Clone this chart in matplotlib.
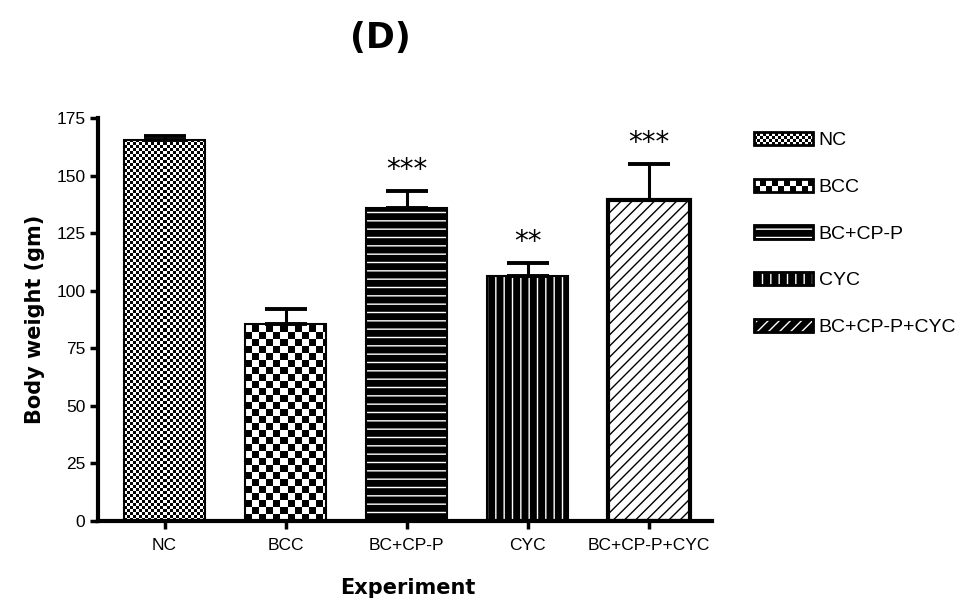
import numpy as np
import matplotlib
matplotlib.use("Agg")
import matplotlib.pyplot as plt
from matplotlib.patches import Patch, Rectangle
from matplotlib.legend_handler import HandlerBase, HandlerTuple

groups = ["NC", "BCC", "BC+CP-P", "CYC", "BC+CP-P+CYC"]
body_weight = [165.5, 85.5, 136.0, 106.5, 139.5]
err_up = [1.8, 6.5, 7.3, 5.5, 15.5]
stars = ["", "", "***", "**", "***"]
yticks = [0, 25, 50, 75, 100, 125, 150, 175]

plt.rcParams['font.family'] = ['Liberation Sans', 'DejaVu Sans']

fig = plt.figure(figsize=(9.7, 6.08), dpi=100)
ax = fig.add_axes([0.101, 0.143, 0.633, 0.663])
ax.set_xlim(-0.55, 4.52)
ax.set_ylim(0, 175)

x = np.arange(len(groups))
bw = 0.67


def checker_fill(ax, bar, cell):
    # checkerboard fill (pixel based) clipped to the bar
    x0, y0 = bar.get_x(), bar.get_y()
    x1, y1 = x0 + bar.get_width(), y0 + bar.get_height()
    (px0, py0), (px1, py1) = ax.transData.transform([(x0, y0), (x1, y1)])
    w, h = int(round(px1 - px0)), int(round(py1 - py0))
    jj, ii = np.meshgrid(np.arange(w), np.arange(h))
    img = ((ii // cell + jj // cell) % 2).astype(float)
    im = ax.imshow(img, cmap='gray', vmin=0, vmax=1, extent=(x0, x1, y0, y1),
                   origin='lower', interpolation='nearest', aspect='auto', zorder=2)
    im.set_clip_path(bar)


# base fills
base = ax.bar(x, body_weight, width=bw, color=['white', 'white', 'black', 'black', 'white'],
              linewidth=0, zorder=1)
checker_fill(ax, base[0], 3)
checker_fill(ax, base[1], 7)
ax.bar(x[2], body_weight[2], width=bw, facecolor='none', edgecolor='white', hatch='--',
       linewidth=0, zorder=2)
ax.bar(x[3], body_weight[3], width=bw, facecolor='none', edgecolor='white', hatch='||',
       linewidth=0, zorder=2)
ax.bar(x[4], body_weight[4], width=bw, facecolor='none', edgecolor='black', hatch='///',
       linewidth=0, zorder=2)
# outlines
ax.bar(x, body_weight, width=bw, facecolor='none', edgecolor='black',
       linewidth=[1.5, 1.5, 1.5, 1.5, 3.0], zorder=3)
ax.set_xlim(-0.55, 4.52)
ax.set_ylim(0, 175)

ax.errorbar(x, body_weight, yerr=[np.zeros(len(x)), err_up], fmt='none', ecolor='black',
            elinewidth=2.2, capsize=15, capthick=2.8, zorder=4)

for xi, v, e, s in zip(x, body_weight, err_up, stars):
    if s:
        ax.text(xi, v + e + 3, s, ha='center', va='bottom', fontsize=20,
                family='DejaVu Sans')

ax.spines['top'].set_visible(False)
ax.spines['right'].set_visible(False)
ax.spines['left'].set_linewidth(3)
ax.spines['bottom'].set_linewidth(3)
ax.set_yticks(yticks)
ax.set_xticks(x)
ax.set_xticklabels(groups)
ax.tick_params(axis='both', width=2.5, length=6, labelsize=12.5, pad=3)
ax.tick_params(axis='x', pad=6)

ax.set_ylabel("Body weight (gm)", fontsize=15, fontweight='bold', family='DejaVu Sans',
              labelpad=8)
fig.text(0.42, 1 - 588 / 608, "Experiment", ha='center', va='center', fontsize=15,
         fontweight='bold', family='DejaVu Sans')
fig.text(0.392, 1 - 38 / 608, "(D)", ha='center', va='center', fontsize=25,
         fontweight='bold', family='DejaVu Sans')


class CheckerHandler(HandlerBase):
    def __init__(self, cell):
        super().__init__()
        self.cell = cell

    def create_artists(self, legend, orig_handle, xdescent, ydescent, width, height,
                       fontsize, trans):
        arts = [Rectangle((-xdescent, -ydescent), width, height, facecolor='white',
                          edgecolor='none', transform=trans)]
        c = self.cell * 72 / 100
        nx, ny = int(width // c) + 1, int(height // c) + 1
        for i in range(nx):
            for j in range(ny):
                if (i + j) % 2 == 0:
                    cw = min(c, width - i * c)
                    ch = min(c, height - j * c)
                    if cw > 0 and ch > 0:
                        arts.append(Rectangle((-xdescent + i * c, -ydescent + j * c), cw, ch,
                                              facecolor='black', edgecolor='none',
                                              transform=trans))
        arts.append(Rectangle((-xdescent, -ydescent), width, height, facecolor='none',
                              edgecolor='black', linewidth=2, transform=trans))
        return arts


h_nc = Patch(facecolor='white')
h_bcc = Patch(facecolor='white')
h_bccp = (Patch(facecolor='black', edgecolor='black'),
          Patch(facecolor='none', edgecolor='white', hatch='--', linewidth=0),
          Patch(facecolor='none', edgecolor='black', linewidth=2))
h_cyc = (Patch(facecolor='black', edgecolor='black'),
         Patch(facecolor='none', edgecolor='white', hatch='||', linewidth=0),
         Patch(facecolor='none', edgecolor='black', linewidth=2))
h_all = (Patch(facecolor='black', edgecolor='black'),
         Patch(facecolor='none', edgecolor='white', hatch='///', linewidth=0),
         Patch(facecolor='none', edgecolor='black', linewidth=2))

fig.legend([h_nc, h_bcc, h_bccp, h_cyc, h_all], groups,
           handler_map={h_nc: CheckerHandler(3), h_bcc: CheckerHandler(6),
                        tuple: HandlerTuple(ndivide=1, pad=0)},
           loc='upper left', bbox_to_anchor=(754 / 970, 1 - 132 / 608), frameon=False,
           fontsize=14, handlelength=3.03, handleheight=0.68, handletextpad=0.3,
           labelspacing=1.5, borderaxespad=0, borderpad=0)

fig.savefig("out.png", dpi=100)
